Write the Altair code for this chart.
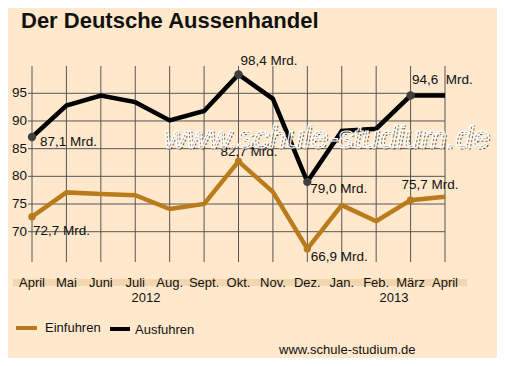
import altair as alt
import pandas as pd

# ---- data ----
months = ["April", "Mai", "Juni", "Juli", "Aug.", "Sept.", "Okt.", "Nov.", "Dez.",
          "Jan.", "Feb.", "März", "April"]
ausfuhren = [87.1, 92.8, 94.6, 93.4, 90.1, 91.8, 98.4, 94.0, 79.0, 88.2, 88.6, 94.6, 94.6]
einfuhren = [72.7, 77.1, 76.8, 76.6, 74.1, 75.0, 82.7, 77.2, 66.9, 74.8, 71.9, 75.7, 76.3]
marked_idx = [0, 6, 8, 11]
aus_labels = ["87,1 Mrd.", "98,4 Mrd.", "79,0 Mrd.", "94,6\u00a0 Mrd."]
ein_labels = ["72,7 Mrd.", "82,7 Mrd.", "66,9 Mrd.", "75,7 Mrd."]
y_ticks = [70, 75, 80, 85, 90, 95]
years = ["2012", "2013"]
year_at = [3.31, 10.52]

ORANGE = "#BA7B1C"
GRID = "#555555"
BG = "#FFE8CB"
FONT = "Liberation Sans"

idx = list(range(len(months)))
df = pd.DataFrame({"i": idx * 2,
                   "v": ausfuhren + einfuhren,
                   "s": ["Ausfuhren"] * len(idx) + ["Einfuhren"] * len(idx)})
df_m = pd.DataFrame({"i": idx, "m": months})
df_y = pd.DataFrame({"t": y_ticks})
df_year = pd.DataFrame({"i": year_at, "t": years})
one = pd.DataFrame({"a": [0]})

xs = alt.Scale(domain=[0, 12], range=[24, 437])
ys = alt.Scale(domain=[70, 95], range=[223.7, 85.3])
X = alt.X("i:Q", scale=xs, axis=None)
Y = alt.Y("v:Q", scale=ys, axis=None)

band = alt.Chart(one).mark_rect(color="#F3D6AF").encode(
    x=alt.value(5), x2=alt.value(459), y=alt.value(271), y2=alt.value(278))

vgrid = alt.Chart(df_m).mark_rule(color=GRID, strokeWidth=1).encode(
    x=X, y=alt.value(58), y2=alt.value(254))
hgrid = alt.Chart(df_y).mark_rule(color=GRID, strokeWidth=1).encode(
    y=alt.Y("t:Q", scale=ys, axis=None), x=alt.value(20), x2=alt.value(437))
ylab = alt.Chart(df_y).mark_text(align="right", baseline="middle", fontSize=13.5, font=FONT,
                                 color="#111").encode(
    y=alt.Y("t:Q", scale=ys, axis=None), x=alt.value(19), text="t:N")
mlab = alt.Chart(df_m).mark_text(baseline="middle", fontSize=13, font=FONT, color="#111").encode(
    x=X, y=alt.value(275), text="m:N")
yrlab = alt.Chart(df_year).mark_text(baseline="middle", fontSize=13, font=FONT, color="#111").encode(
    x=X, y=alt.value(290), text="t:N")

lines = alt.Chart(df).mark_line(strokeWidth=4.5, strokeJoin="miter").encode(
    x=X, y=Y, detail="s:N",
    color=alt.Color("s:N", scale=alt.Scale(domain=["Ausfuhren", "Einfuhren"],
                                           range=["#000000", ORANGE]), legend=None))

dm = df[df["i"].isin(marked_idx)]
dots_a = alt.Chart(dm[dm.s == "Ausfuhren"]).mark_circle(size=70, opacity=1, color="#3f3f3f").encode(x=X, y=Y)
dots_e = alt.Chart(dm[dm.s == "Einfuhren"]).mark_circle(size=55, opacity=1, color=ORANGE).encode(x=X, y=Y)

def lab(values, labels, k, dx, dy):
    d = pd.DataFrame({"i": [marked_idx[k]], "v": [values[marked_idx[k]]], "t": [labels[k]]})
    return alt.Chart(d).mark_text(align="left", baseline="middle", fontSize=13.5, font=FONT,
                                  color="#111", dx=dx, dy=dy).encode(x=X, y=Y, text="t:N")

labels = [
    lab(ausfuhren, aus_labels, 0, 8, 4.5),
    lab(ausfuhren, aus_labels, 1, 2, -13.5),
    lab(ausfuhren, aus_labels, 2, 3, 7.5),
    lab(ausfuhren, aus_labels, 3, 1.5, -15.5),
    lab(einfuhren, ein_labels, 0, 1, 14),
    lab(einfuhren, ein_labels, 1, -18, -9),
    lab(einfuhren, ein_labels, 2, 3.5, 8),
    lab(einfuhren, ein_labels, 3, -9, -15),
]

title = alt.Chart(one).mark_text(align="left", baseline="alphabetic", fontSize=22,
                                 fontWeight="bold", font=FONT, color="#111",
                                 text="Der Deutsche Aussenhandel").encode(
    x=alt.value(13), y=alt.value(20))

leg_e = alt.Chart(one).mark_rect(color=ORANGE).encode(
    x=alt.value(8), x2=alt.value(29), y=alt.value(318), y2=alt.value(322))
leg_a = alt.Chart(one).mark_rect(color="#000").encode(
    x=alt.value(102), x2=alt.value(122), y=alt.value(319), y2=alt.value(323))
leg_et = alt.Chart(one).mark_text(align="left", baseline="middle", fontSize=13, font=FONT,
                                  color="#111", text="Einfuhren").encode(
    x=alt.value(37), y=alt.value(320))
leg_at = alt.Chart(one).mark_text(align="left", baseline="middle", fontSize=13, font=FONT,
                                  color="#111", text="Ausfuhren").encode(
    x=alt.value(127), y=alt.value(322))
footer = alt.Chart(one).mark_text(align="left", baseline="middle", fontSize=13, font=FONT,
                                  color="#111", text="www.schule-studium.de").encode(
    x=alt.value(271), y=alt.value(342))

wm1 = alt.Chart(one).mark_text(align="left", baseline="alphabetic", fontSize=31, fontStyle="italic",
                               font=FONT, fill="transparent", stroke="#333", strokeWidth=1,
                               strokeDash=[2, 2], text="www.schule-studium.de").encode(
    x=alt.value(157), y=alt.value(141))
wm2 = alt.Chart(one).mark_text(align="left", baseline="alphabetic", fontSize=31, fontStyle="italic",
                               font=FONT, fill="transparent", stroke="#ffffff", strokeWidth=1.2,
                               text="www.schule-studium.de").encode(
    x=alt.value(156), y=alt.value(140))

chart = alt.layer(band, vgrid, hgrid, ylab, mlab, yrlab, lines, dots_a, dots_e, *labels,
                  title, leg_e, leg_a, leg_et, leg_at, footer, wm1, wm2).properties(
    width=489, height=350, autosize="none", padding=0, background=BG
).configure_view(stroke=None)

chart.save("out.html", embed_options={"renderer": "svg", "actions": False})
